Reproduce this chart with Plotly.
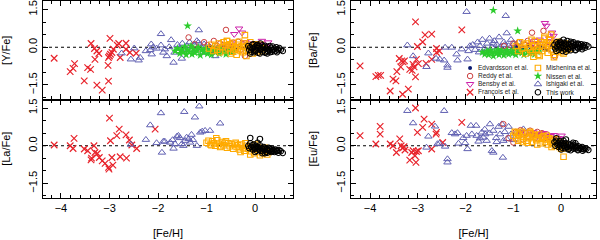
import plotly.graph_objects as go

# ---------------- data: [X/Fe] vs [Fe/H] ----------------
# ---- Panel [Y/Fe] ----
FRA_Y_X = [-4.14,-3.81,-3.75,-3.72,-3.52,-3.45,-3.39,-3.38,-3.31,-3.26,-3.30,-3.22,-3.26,-3.15,-3.02,-3.03,-2.99,-3.00,-2.98,-2.95,-3.02,-2.92,-2.84,-2.81,-2.66,-2.66,-2.58,-2.45,-2.78]
FRA_Y_Y = [-0.44,-0.97,-0.84,-0.65,-1.34,-0.81,-0.88,0.15,-0.05,-0.15,-0.48,-0.25,-1.51,-1.71,-1.35,-0.72,0.35,-0.35,-0.28,-0.21,-0.41,-0.08,0.08,0.15,0.16,-0.08,-0.21,-0.24,-0.41]
ISH_Y_X = [-2.75,-2.56,-2.49,-2.40,-2.37,-2.25,-2.16,-2.13,-2.14,-2.10,-2.03,-1.94,-1.94,-1.89,-1.86,-1.82,-1.73,-1.77,-1.66,-1.68,-1.51,-1.16,-1.17,-1.44,-1.03,-0.82,-1.60,-1.55,-1.50,-1.45,-1.40,-1.35,-1.30,-1.25,-1.20,-1.10,-1.05,-0.95,-0.90]
ISH_Y_Y = [-0.24,-0.48,-0.04,-0.52,-0.41,-0.15,-0.11,-0.28,0.12,0.00,-0.05,0.53,0.08,-0.21,-0.08,-0.35,0.29,0.01,-0.21,-0.61,-0.45,0.68,0.19,-0.08,-0.21,-0.35,0.10,-0.05,0.15,-0.12,0.05,0.20,-0.10,0.08,0.25,-0.02,0.12,0.02,-0.15]
NIS_Y_X = [-1.65,-1.60,-1.55,-1.52,-1.48,-1.45,-1.42,-1.39,-1.36,-1.32,-1.30,-1.27,-1.24,-1.20,-1.17,-1.13,-1.10,-1.06,-1.02,-0.98,-0.95,-0.90,-0.86,-0.82,-0.78,-0.74,-0.70,-0.65,-0.60,-0.55,-0.50,-0.45,-1.39]
NIS_Y_Y = [-0.15,-0.05,-0.25,-0.10,-0.20,0.02,-0.30,-0.12,-0.18,0.05,-0.28,-0.08,-0.22,-0.14,0.00,-0.32,-0.10,-0.20,-0.05,-0.26,-0.15,-0.30,-0.08,-0.20,-0.12,-0.25,-0.05,-0.18,-0.28,-0.10,-0.20,-0.15,0.85]
EDV_Y_X = [-1.00,-0.92,-0.85,-0.78,-0.70,-0.64,-0.58,-0.50,-0.44,-0.38,-0.30,-0.22,-0.15,-0.08,0.00,0.10]
EDV_Y_Y = [-0.02,0.03,-0.08,0.00,-0.05,0.04,-0.10,-0.03,0.02,-0.07,-0.01,-0.05,0.03,-0.06,-0.02,0.00]
RED_Y_X = [-1.37,-1.25,-1.15,-1.05,-0.98,-0.90,-0.85,-0.78,-0.72,-0.68,-0.60,-0.55,-0.50,-0.45,-0.40,-0.35,-0.30,-0.25,-0.21,-0.15]
RED_Y_Y = [0.39,0.12,-0.05,0.20,0.08,-0.12,0.25,0.05,0.15,-0.08,0.69,0.10,-0.15,0.18,0.00,0.22,-0.10,0.12,-0.35,0.05]
BEN_Y_X = [-0.43,-0.33,-0.27,-0.50,-0.60,-0.20,0.14,0.27,0.05,-0.10,0.20]
BEN_Y_Y = [0.52,0.74,0.58,0.15,0.05,0.20,0.25,0.19,0.10,0.15,0.05]
MIS_Y_X = [-0.95,-0.90,-0.86,-0.82,-0.78,-0.75,-0.72,-0.68,-0.65,-0.62,-0.60,-0.58,-0.55,-0.52,-0.50,-0.48,-0.45,-0.42,-0.40,-0.38,-0.35,-0.33,-0.30,-0.28,-0.25,-0.23,-0.20,-0.18,-0.15,-0.13,-0.10,-0.08,-0.05,-0.03,0.00,0.02,0.05,0.08,0.10,0.12,0.15,0.18,-0.21,-0.58,-0.35,-0.45,-0.25,-0.15,-0.05,0.05]
MIS_Y_Y = [-0.05,0.10,-0.15,0.05,-0.10,0.15,-0.20,0.00,0.20,-0.12,0.08,0.25,-0.05,0.12,-0.25,0.05,0.18,-0.10,0.00,-0.30,0.10,0.22,-0.15,0.05,-0.20,0.15,0.00,-0.35,0.10,-0.10,0.20,-0.05,-0.25,0.08,-0.12,0.12,-0.20,0.00,-0.08,0.10,-0.15,-0.05,0.48,0.25,-0.05,-0.18,-0.08,0.03,0.00,-0.12]
TW_X = [-0.14,-0.12,-0.10,-0.08,-0.06,-0.05,-0.03,-0.02,0.00,0.02,0.03,0.05,0.06,0.08,0.10,0.11,0.13,0.15,0.16,0.18,0.20,0.21,0.23,0.25,0.26,0.28,0.30,0.31,0.33,0.35,0.36,0.38,0.40,0.42,0.44,0.46,0.48,0.50,0.53,0.57,-0.10,0.00,0.10,0.20,0.30,0.05,0.15,0.25,0.35,0.45]
TW_Y_Y = [0.05,-0.10,0.00,-0.18,0.10,-0.05,0.12,-0.20,0.02,-0.12,0.08,-0.02,-0.22,0.05,-0.10,0.15,-0.05,-0.18,0.00,-0.12,0.06,-0.22,-0.05,0.02,-0.15,-0.08,0.05,-0.20,-0.02,-0.12,0.03,-0.10,-0.05,-0.15,0.00,-0.08,-0.12,-0.03,-0.10,-0.15,-0.25,-0.15,-0.25,-0.20,-0.12,0.10,0.08,-0.25,-0.18,-0.20]

# ---- Panel [Ba/Fe] ----
FRA_BA_X = [-4.21,-3.88,-3.83,-3.78,-3.58,-3.52,-3.46,-3.44,-3.36,-3.39,-3.34,-3.31,-3.28,-3.32,-3.20,-3.17,-3.12,-3.08,-3.05,-3.10,-3.03,-2.99,-3.05,-3.01,-2.90,-2.85,-2.71,-2.83,-2.71,-2.61,-2.61,-2.55,-2.08]
FRA_BA_Y = [-0.74,-1.17,-1.12,-1.12,-1.74,-1.27,-1.34,-0.97,-0.78,-0.45,-0.54,-0.58,-0.54,-1.87,-1.67,-0.88,-0.92,-0.78,-1.18,-0.68,-0.48,-0.65,1.01,0.03,0.21,0.49,0.52,-0.64,-0.48,-0.05,-0.21,-0.15,0.69]
ISH_BA_X = [-3.22,-3.10,-2.82,-2.78,-2.62,-2.54,-2.45,-2.38,-2.38,-2.43,-2.29,-2.19,-2.17,-2.08,-1.96,-1.98,-1.91,-1.94,-1.16,-1.14,-1.85,-1.80,-1.75,-1.70,-1.65,-1.60,-1.55,-1.50,-1.45,-1.40,-1.35,-1.30,-1.25,-1.20,-1.10,-1.05,-1.00,-0.95,-0.90,-1.72,-1.58,-1.42,-1.28,-1.18]
ISH_BA_Y = [0.08,-0.35,-0.78,-0.24,-0.45,-0.48,-0.52,-0.72,-0.81,-0.01,-0.01,-0.28,-0.52,-0.08,-0.48,1.41,0.05,-0.15,1.25,0.56,0.10,-0.10,0.20,0.05,0.30,-0.05,0.15,0.35,0.00,0.25,0.10,0.40,-0.08,0.20,0.05,0.30,0.12,-0.05,0.20,-0.20,-0.15,0.15,0.00,0.10]
NIS_BA_X = [-1.65,-1.60,-1.55,-1.52,-1.48,-1.45,-1.42,-1.39,-1.36,-1.32,-1.30,-1.27,-1.24,-1.20,-1.17,-1.13,-1.10,-1.06,-1.02,-0.98,-0.95,-0.90,-0.86,-0.82,-0.78,-0.74,-0.70,-0.65,-0.60,-0.55,-0.50,-0.45,-1.42,-0.91]
NIS_BA_Y = [-0.20,-0.28,-0.15,-0.30,-0.12,-0.22,-0.35,-0.18,-0.25,-0.10,-0.30,-0.20,-0.15,-0.32,-0.22,-0.12,-0.28,-0.18,-0.25,-0.10,-0.30,-0.20,-0.15,-0.22,-0.30,-0.12,-0.20,-0.25,-0.15,-0.28,-0.18,-0.10,1.47,0.65]
EDV_BA_X = [-1.00,-0.92,-0.85,-0.78,-0.70,-0.64,-0.58,-0.50,-0.44,-0.38,-0.30,-0.22,-0.15,-0.08,0.00]
EDV_BA_Y = [-0.05,0.02,-0.10,-0.03,0.05,-0.08,0.00,-0.12,0.03,-0.05,-0.10,0.02,-0.06,0.00,-0.04]
RED_BA_X = [-1.20,-1.10,-1.00,-0.95,-0.88,-0.80,-0.75,-0.70,-0.61,-0.55,-0.50,-0.45,-0.37,-0.30,-0.25,-0.20,-0.15,-0.13]
RED_BA_Y = [0.05,-0.10,0.15,0.00,0.20,-0.05,0.10,0.25,0.58,0.10,-0.08,0.15,0.65,0.05,0.20,-0.10,0.10,-0.37]
BEN_BA_X = [-0.34,-0.31,-0.19,-0.16,-0.55,-0.45,-0.60,-0.25,-0.10,0.00]
BEN_BA_Y = [0.96,0.85,0.58,0.45,0.25,0.30,0.15,0.35,0.20,0.15]
MIS_BA_Y = [0.05,-0.15,0.20,-0.05,0.10,-0.25,0.15,0.00,-0.10,0.30,-0.20,0.05,0.25,-0.10,0.12,-0.30,0.02,0.20,-0.15,0.08,0.35,-0.05,0.15,-0.22,0.05,0.28,-0.12,0.10,-0.30,0.18,0.00,-0.15,0.22,0.05,-0.20,0.10,-0.08,0.15,0.00,-0.12,0.08,-0.05,0.50,-0.38,0.42,-0.35,0.30,-0.40,0.20,-0.25]
TW_BA_Y = [0.10,-0.05,0.20,0.00,0.15,-0.10,0.08,0.22,-0.02,0.12,-0.15,0.05,0.18,-0.08,0.10,0.00,0.25,-0.05,0.12,0.02,-0.12,0.15,0.05,-0.02,0.20,0.08,-0.10,0.10,0.00,0.15,-0.05,0.08,0.02,0.12,-0.08,0.05,0.10,-0.02,0.08,0.03,-0.15,0.18,-0.18,0.22,-0.12,0.30,-0.08,0.15,0.12,0.00]

# ---- Panel [La/Fe] ----
FRA_LA_X = [-4.14,-3.81,-3.73,-3.75,-3.52,-3.45,-3.37,-3.38,-3.32,-3.30,-3.25,-3.21,-3.15,-3.09,-3.02,-3.01,-3.00,-2.98,-2.95,-2.93,-2.85,-2.80,-2.78,-2.66,-2.65,-2.59,-2.54,-2.44,-2.06]
FRA_LA_Y = [0.03,0.00,0.29,-0.11,-0.13,-0.20,-0.49,-0.56,0.00,-0.27,-0.31,-0.47,-0.60,-0.70,-0.86,-0.93,1.10,0.20,-0.47,-0.77,0.40,0.66,-0.44,0.43,-0.49,0.23,0.03,-0.11,0.66]
ISH_LA_X = [-2.25,-2.16,-2.03,-1.92,-1.94,-1.89,-1.86,-1.75,-1.70,-1.68,-1.65,-1.61,-1.58,-1.55,-1.51,-1.46,-1.44,-1.41,-1.37,-1.34,-1.31,-1.28,-1.24,-1.20,-1.15,-1.13,-1.09,-1.03,-0.93,-0.72,-1.48,-2.56]
ISH_LA_Y = [0.24,0.82,0.11,-0.27,1.30,0.17,0.17,0.13,0.23,-0.11,0.07,0.37,0.40,0.31,0.07,1.35,0.20,0.33,0.27,0.13,0.44,0.23,1.13,0.00,1.57,0.53,0.57,0.60,0.60,0.89,0.00,0.05]
MIS_LA_X = [-1.00,-0.96,-0.92,-0.88,-0.85,-0.82,-0.78,-0.75,-0.72,-0.68,-0.65,-0.62,-0.58,-0.55,-0.52,-0.48,-0.45,-0.42,-0.38,-0.35,-0.32,-0.28,-0.25,-0.22,-0.18,-0.15,-0.12,-0.08,-0.05,-0.02,0.02,0.05,0.08,0.12,0.15,0.18,0.22,0.25,0.28,-0.90,-0.70,-0.60,-0.40,-0.30,-0.20,-0.10,0.00,0.10,0.20,-0.80]
MIS_LA_Y = [0.12,0.20,0.05,0.18,0.10,0.00,0.22,0.08,-0.05,0.15,0.02,0.12,-0.08,0.10,-0.02,0.05,-0.12,0.08,-0.05,0.02,-0.15,0.05,-0.10,-0.20,0.00,-0.12,-0.05,-0.22,-0.10,-0.30,-0.15,-0.05,-0.25,-0.12,-0.30,-0.18,-0.20,-0.35,-0.25,0.02,-0.02,0.18,0.12,-0.25,0.10,-0.35,0.05,-0.38,-0.08,0.30]
TW_LA_Y = [0.00,-0.10,0.10,-0.05,0.02,-0.15,0.05,-0.08,-0.12,0.00,-0.20,-0.05,-0.10,-0.15,0.02,-0.20,-0.08,-0.12,-0.22,-0.05,-0.15,-0.10,-0.25,-0.12,-0.18,-0.08,-0.20,-0.15,-0.25,-0.12,-0.20,-0.18,-0.25,-0.15,-0.22,-0.20,-0.28,-0.18,-0.22,-0.29,0.31,-0.25,0.27,-0.30,-0.10,0.12,-0.30,-0.28,-0.22,-0.18]

# ---- Panel [Eu/Fe] ----
FRA_EU_X = [-4.21,-3.79,-3.79,-3.88,-3.58,-3.52,-3.45,-3.38,-3.35,-3.32,-3.29,-3.27,-3.17,-3.13,-3.10,-3.06,-3.04,-3.03,-2.99,-3.05,-3.01,-2.90,-2.87,-2.71,-2.62,-2.61,-2.71,-2.48,-2.08]
FRA_EU_Y = [0.40,0.77,0.46,0.07,0.07,0.00,-0.27,0.27,0.00,-0.09,-0.04,-0.17,-0.57,-0.27,-0.20,-0.40,-0.66,-0.23,-0.20,1.50,0.53,0.73,1.06,0.86,0.46,0.53,-0.13,0.13,0.93]
ISH_EU_X = [-3.22,-3.10,-2.82,-2.78,-2.64,-2.59,-2.55,-2.45,-2.43,-2.38,-2.38,-2.29,-2.22,-2.17,-2.15,-2.05,-2.01,-1.96,-1.98,-1.89,-1.78,-1.87,-1.77,-1.73,-1.66,-1.63,-1.59,-1.56,-1.49,-1.45,-1.42,-1.42,-1.36,-1.31,-1.28,-1.24,-1.22,-1.21,-1.14,-1.10,-1.05,-1.00,-0.93,-0.79,-1.70,-1.50,-1.35,-1.18,-1.60]
ISH_EU_Y = [1.39,0.90,-0.07,0.37,0.77,0.07,0.09,1.39,-0.03,-0.53,-0.66,0.51,0.46,0.51,0.09,0.31,0.11,-0.13,0.40,0.80,0.80,0.46,0.40,0.17,0.53,0.33,0.46,0.20,0.86,-0.20,-0.27,0.60,0.31,0.76,0.46,0.86,-0.47,0.20,0.27,0.76,0.46,0.23,0.53,0.66,0.30,0.50,0.15,0.55,0.65]
RED_EU_X = [-1.21,-1.10,-1.00,-0.95,-0.90,-0.85,-0.80,-0.75,-0.70,-0.65,-0.60,-0.55,-0.50,-0.45,-0.40,-0.35,-0.30,-0.25,-0.20]
RED_EU_Y = [0.86,0.30,0.13,0.55,0.40,0.62,0.25,0.50,0.35,0.60,0.45,0.30,0.55,0.40,0.50,0.30,0.45,0.35,0.25]
BEN_EU_X = [-0.85,-0.75,-0.65,-0.58,-0.50,-0.44,-0.38,-0.30,-0.22,-0.15,-0.05,0.01]
BEN_EU_Y = [0.50,0.55,0.45,0.53,0.42,0.46,0.50,0.40,0.38,0.42,0.30,0.40]
MIS_EU_X = [-1.00,-0.97,-0.94,-0.91,-0.88,-0.85,-0.82,-0.79,-0.76,-0.73,-0.70,-0.67,-0.64,-0.61,-0.58,-0.55,-0.52,-0.49,-0.46,-0.43,-0.40,-0.37,-0.34,-0.31,-0.28,-0.25,-0.22,-0.19,-0.16,-0.13,-0.10,-0.07,-0.04,-0.01,0.02,0.05,0.08,0.11,-0.90,-0.80,-0.70,-0.60,-0.50,-0.40,-0.30,-0.20,-0.10,0.00,0.05,-0.65]
MIS_EU_Y = [0.40,0.55,0.30,0.50,0.45,0.25,0.55,0.35,0.48,0.20,0.40,0.30,0.50,0.15,0.35,0.42,0.22,0.30,0.45,0.10,0.28,0.38,0.15,0.25,0.05,0.30,0.18,0.10,0.25,0.00,0.15,0.08,-0.05,0.12,0.02,-0.08,0.05,-0.10,0.20,0.15,0.12,0.45,0.05,0.35,0.40,-0.05,0.25,-0.12,-0.44,0.55]
TW_EU_Y = [0.15,0.00,0.20,0.05,0.10,-0.05,0.18,0.02,0.08,-0.08,0.12,0.00,0.05,-0.10,0.10,0.02,-0.05,0.08,-0.12,0.00,0.05,-0.08,-0.02,0.04,-0.12,-0.05,0.00,-0.10,-0.06,-0.15,-0.02,-0.10,-0.08,-0.12,-0.05,-0.12,-0.15,-0.10,-0.12,-0.17,0.30,-0.15,0.25,-0.18,0.10,0.20,-0.15,0.12,-0.18,-0.20]

Y_TITLES = ["[Y/Fe]", "[Ba/Fe]", "[La/Fe]", "[Eu/Fe]"]
X_TITLE = "[Fe/H]"
LEGEND_NAMES = ["Edvardsson et al.", "Reddy et al.", "Bensby et al.", "François et al.",
                "Mishenina et al.", "Nissen et al.", "Ishigaki et al.", "This work"]

# ---------------- styles ----------------
STY = {
    "fra": dict(symbol="x-thin", size=6.5, color="#e8242c", line=dict(color="#e8242c", width=1.2)),
    "ish": dict(symbol="triangle-up-open", size=6.5, color="#6060b2", line=dict(width=1)),
    "edv": dict(symbol="circle", size=4, color="#0a1a70", line=dict(width=0)),
    "red": dict(symbol="circle-open", size=5.5, color="#cc4040", line=dict(width=1)),
    "ben": dict(symbol="triangle-down-open", size=6.5, color="#cc22aa", line=dict(width=1)),
    "nis": dict(symbol="star", size=6.5, color="#2ccc2c", line=dict(width=0)),
    "mis": dict(symbol="square-open", size=5.5, color="#ffaa00", line=dict(width=1.1)),
    "tw": dict(symbol="circle-open", size=5.5, color="#000000", line=dict(width=1.1)),
}
LEG_KEYS = ["edv", "red", "ben", "fra", "mis", "nis", "ish", "tw"]

panels = [
    ("x", "y", [("fra", FRA_Y_X, FRA_Y_Y), ("ish", ISH_Y_X, ISH_Y_Y), ("edv", EDV_Y_X, EDV_Y_Y),
                ("red", RED_Y_X, RED_Y_Y), ("nis", NIS_Y_X, NIS_Y_Y), ("ben", BEN_Y_X, BEN_Y_Y),
                ("mis", MIS_Y_X, MIS_Y_Y), ("tw", TW_X, TW_Y_Y)]),
    ("x2", "y2", [("fra", FRA_BA_X, FRA_BA_Y), ("ish", ISH_BA_X, ISH_BA_Y), ("edv", EDV_BA_X, EDV_BA_Y),
                  ("red", RED_BA_X, RED_BA_Y), ("nis", NIS_BA_X, NIS_BA_Y), ("ben", BEN_BA_X, BEN_BA_Y),
                  ("mis", MIS_Y_X, MIS_BA_Y), ("tw", TW_X, TW_BA_Y)]),
    ("x3", "y3", [("fra", FRA_LA_X, FRA_LA_Y), ("ish", ISH_LA_X, ISH_LA_Y),
                  ("mis", MIS_LA_X, MIS_LA_Y), ("tw", TW_X, TW_LA_Y)]),
    ("x4", "y4", [("fra", FRA_EU_X, FRA_EU_Y), ("ish", ISH_EU_X, ISH_EU_Y),
                  ("red", RED_EU_X, RED_EU_Y), ("ben", BEN_EU_X, BEN_EU_Y),
                  ("mis", MIS_EU_X, MIS_EU_Y), ("tw", TW_X, TW_EU_Y)]),
]

fig = go.Figure()
for xa, ya, series in panels:
    for key, xs, ys in series:
        assert len(xs) == len(ys), (xa, key, len(xs), len(ys))
        fig.add_trace(go.Scatter(x=xs, y=ys, mode="markers", xaxis=xa, yaxis=ya,
                                 marker=STY[key], showlegend=False, hoverinfo="skip"))

FONT = "Liberation Sans, Arial, sans-serif"
XDOM = [[0.0, 0.452], [0.557, 1.0]]
YDOM = [[0.5, 1.0], [0.0, 0.5]]
XR = [[-4.37, 0.78], [-4.40, 0.73]]
YR = [-2.08, 1.84]

common = dict(showline=True, linewidth=1.3, linecolor="black", mirror="allticks",
              ticks="inside", ticklen=5, tickwidth=1, tickcolor="black",
              showgrid=False, zeroline=False, automargin=False,
              tickfont=dict(family=FONT, size=11, color="black"))
layout = dict(width=600, height=240, margin=dict(l=43, r=4, t=1, b=42, autoexpand=False),
              paper_bgcolor="white", plot_bgcolor="white", showlegend=False)

for i in range(4):
    col, row = i % 2, i // 2
    xn = "xaxis" if i == 0 else f"xaxis{i+1}"
    yn = "yaxis" if i == 0 else f"yaxis{i+1}"
    xa = "x" if i == 0 else f"x{i+1}"
    ya = "y" if i == 0 else f"y{i+1}"
    layout[xn] = dict(common, domain=XDOM[col], range=XR[col], anchor=ya,
                      tick0=0, dtick=1, showticklabels=(row == 1),
                      minor=dict(ticks="inside", ticklen=3, tick0=0, dtick=0.2, tickcolor="black"),
                      title=dict(text=X_TITLE if row == 1 else "",
                                 font=dict(family=FONT, size=11, color="black")))
    layout[yn] = dict(common, domain=YDOM[row], range=YR, anchor=xa,
                      tick0=0, dtick=1.5, tickformat=".1f", tickangle=-90,
                      minor=dict(ticks="inside", ticklen=3, tick0=0, dtick=0.5, tickcolor="black"),
                      title=dict(text=Y_TITLES[i], font=dict(family=FONT, size=11, color="black")))

# hidden axes (overlaying the top-right panel) that hold the legend keys
layout["xaxis5"] = dict(domain=XDOM[1], range=[0, 1], visible=False, anchor="y5", overlaying="x2")
layout["yaxis5"] = dict(domain=YDOM[0], range=[0, 1], visible=False, anchor="x5", overlaying="y2")
fig.update_layout(**layout)

shapes = []
for i in range(4):
    xa = "x" if i == 0 else f"x{i+1}"
    ya = "y" if i == 0 else f"y{i+1}"
    shapes.append(dict(type="line", xref=f"{xa} domain", yref=ya, x0=0, x1=1, y0=0, y1=0,
                       line=dict(color="black", width=1.2, dash="dot"), layer="below"))
fig.update_layout(shapes=shapes)

# legend: 2 columns x 4 rows
COL_X = [0.486, 0.763]
ROW_TOP, ROW_STEP = 0.32, 0.082
anns = []
for k, (key, name) in enumerate(zip(LEG_KEYS, LEGEND_NAMES)):
    c, r = k // 4, k % 4
    lx, ly = COL_X[c], ROW_TOP - r * ROW_STEP
    fig.add_trace(go.Scatter(x=[lx], y=[ly], mode="markers", xaxis="x5", yaxis="y5",
                             marker=STY[key], showlegend=False, hoverinfo="skip"))
    anns.append(dict(x=lx + 0.025, y=ly, xref="x5", yref="y5", text=name, showarrow=False,
                     xanchor="left", yanchor="middle",
                     font=dict(family=FONT, size=6.5, color="#222222")))
fig.update_layout(annotations=anns)

fig.write_html("out.html", config={"displayModeBar": False},
               post_script="document.body.style.margin='0';document.body.style.padding='0';")
